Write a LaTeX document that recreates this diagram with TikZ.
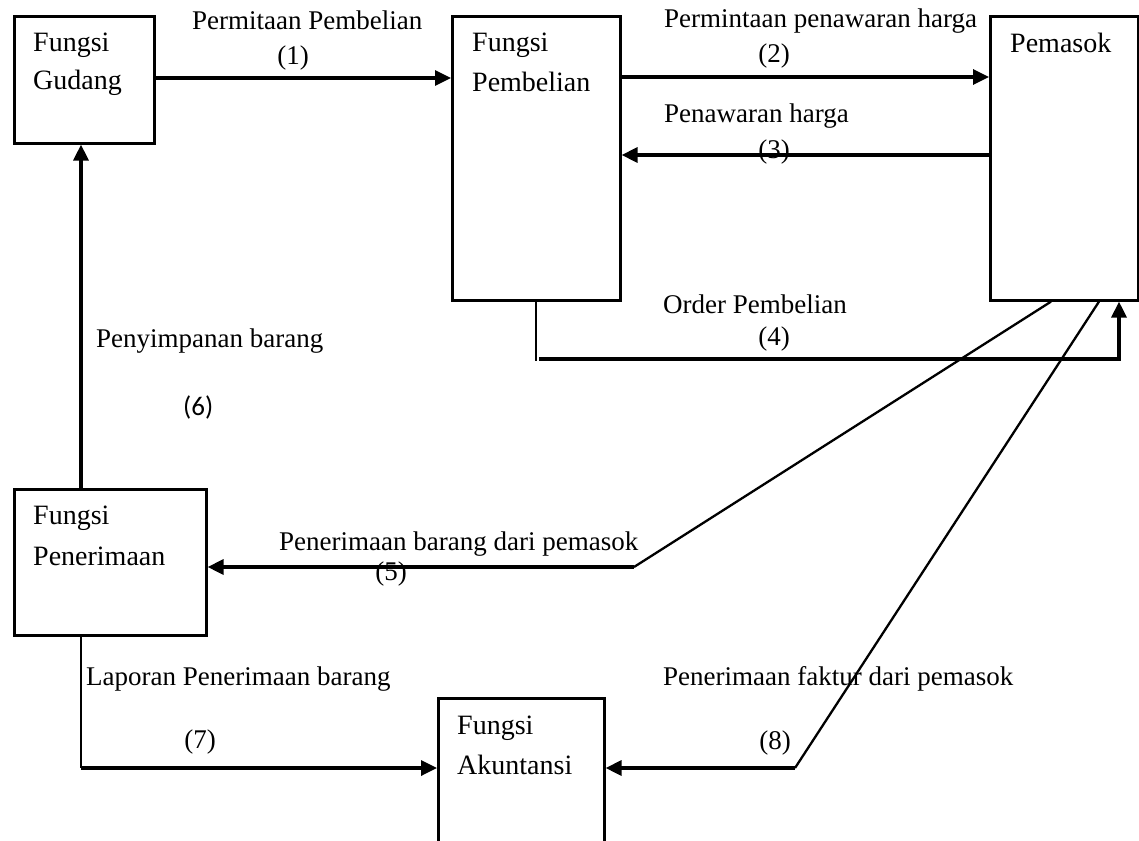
\documentclass[tikz,border=0pt]{standalone}
\usepackage{fontspec}
\setmainfont{Liberation Serif}
\newfontfamily\numsans{Carlito}
\usetikzlibrary{arrows.meta}

\begin{document}
\begin{tikzpicture}[x=1pt,y=-1pt,
  box/.style={draw, line width=2.6pt, inner sep=0pt, anchor=north west},
  boxtext/.style={anchor=base west, inner sep=0pt, font=\fontsize{28}{34}\selectfont},
  flowtext/.style={anchor=base west, inner sep=0pt, font=\fontsize{27}{32}\selectfont},
  flownum/.style={anchor=base, inner sep=0pt, font=\fontsize{27}{32}\selectfont},
  flow/.style={line width=3.3pt, -{Triangle[length=16pt,width=15pt]}},
  feed/.style={line width=2.3pt},
]
\useasboundingbox (0,0) rectangle (1139,840);

% units and departments
\node[box, minimum width=140pt, minimum height=127pt] (gud)  at (13,15) {};
\node[box, minimum width=168pt, minimum height=284pt] (pemb) at (451,15) {};
\node[box, minimum width=148pt, minimum height=284pt] (pem)  at (989,15) {};
\node[box, minimum width=192pt, minimum height=146pt] (pen)  at (13,488) {};
\node[box, minimum width=166pt, minimum height=180pt] (ak)   at (437,697) {};

\node[boxtext] (gudA)  at (33,52)   {Fungsi};
\node[boxtext] (gudB)  at (33,90)   {Gudang};
\node[boxtext] (pembA) at (472,52)  {Fungsi};
\node[boxtext] (pembB) at (472,92)  {Pembelian};
\node[boxtext] (pemA)  at (1010,53) {Pemasok};
\node[boxtext] (penA)  at (33,524)  {Fungsi};
\node[boxtext] (penB)  at (33,565)  {Penerimaan};
\node[boxtext] (akA)   at (457,734) {Fungsi};
\node[boxtext] (akB)   at (457,774) {Akuntansi};

% bend points of the routed flows
\coordinate (k4a) at (536,361);
\coordinate (k4b) at (539,359);
\coordinate (k4c) at (1119,359);
\coordinate (k5)  at (634,567);
\coordinate (k7)  at (81,768);
\coordinate (k8)  at (795,768);

% (1) purchase request
\draw[flow] (gud.east |- 0,78) -- (pemb.west |- 0,78);
% (2) request for quotation
\draw[flow] (pemb.east |- 0,77) -- (pem.west |- 0,77);
% (3) quotation
\draw[flow] (pem.west |- 0,155) -- (pemb.east |- 0,155);
% (4) purchase order
\draw[feed] (pemb.south -| k4a) -- (k4a);
\draw[flow] (k4b) -- (k4c) -- (pem.south -| k4c);
% (5) goods received from supplier
\draw[feed] (pem.south -| 1051,0) -- (k5);
\draw[flow] (k5) -- (pen.east |- k5);
% (6) storage
\draw[flow] (pen.north -| k7) -- (gud.south -| k7);
% (7) receiving report
\draw[feed] (pen.south -| k7) -- (k7);
\draw[flow] (k7) -- (ak.west |- k7);
% (8) supplier invoice
\draw[feed] (pem.south -| 1099,0) -- (k8);
\draw[flow] (k8) -- (ak.east |- k8);

% flow labels
\node[flowtext] (l1) at (192,30)  {Permitaan Pembelian};
\node[flownum]  (n1) at (293,65)  {(1)};
\node[flowtext] (l2) at (664,28)  {Permintaan penawaran harga};
\node[flownum]  (n2) at (774,63)  {(2)};
\node[flowtext] (l3) at (664,122) {Penawaran harga};
\node[flownum]  (n3) at (774,158) {(3)};
\node[flowtext] (l4) at (663,313) {Order Pembelian};
\node[flownum]  (n4) at (774,345) {(4)};
\node[flowtext] (l5) at (279,550) {Penerimaan barang dari pemasok};
\node[flownum]  (n5) at (391,580) {(5)};
\node[flowtext] (l6) at (96,347)  {Penyimpanan barang};
\node[anchor=base west, inner sep=0pt, font=\numsans\fontsize{27}{32}\selectfont] (n6) at (183,415) {(6)};
\node[flowtext] (l7) at (86,685)  {Laporan Penerimaan barang};
\node[flownum]  (n7) at (200,748) {(7)};
\node[flowtext] (l8) at (663,685) {Penerimaan faktur dari pemasok};
\node[flownum]  (n8) at (775,749) {(8)};
\end{tikzpicture}
\end{document}
